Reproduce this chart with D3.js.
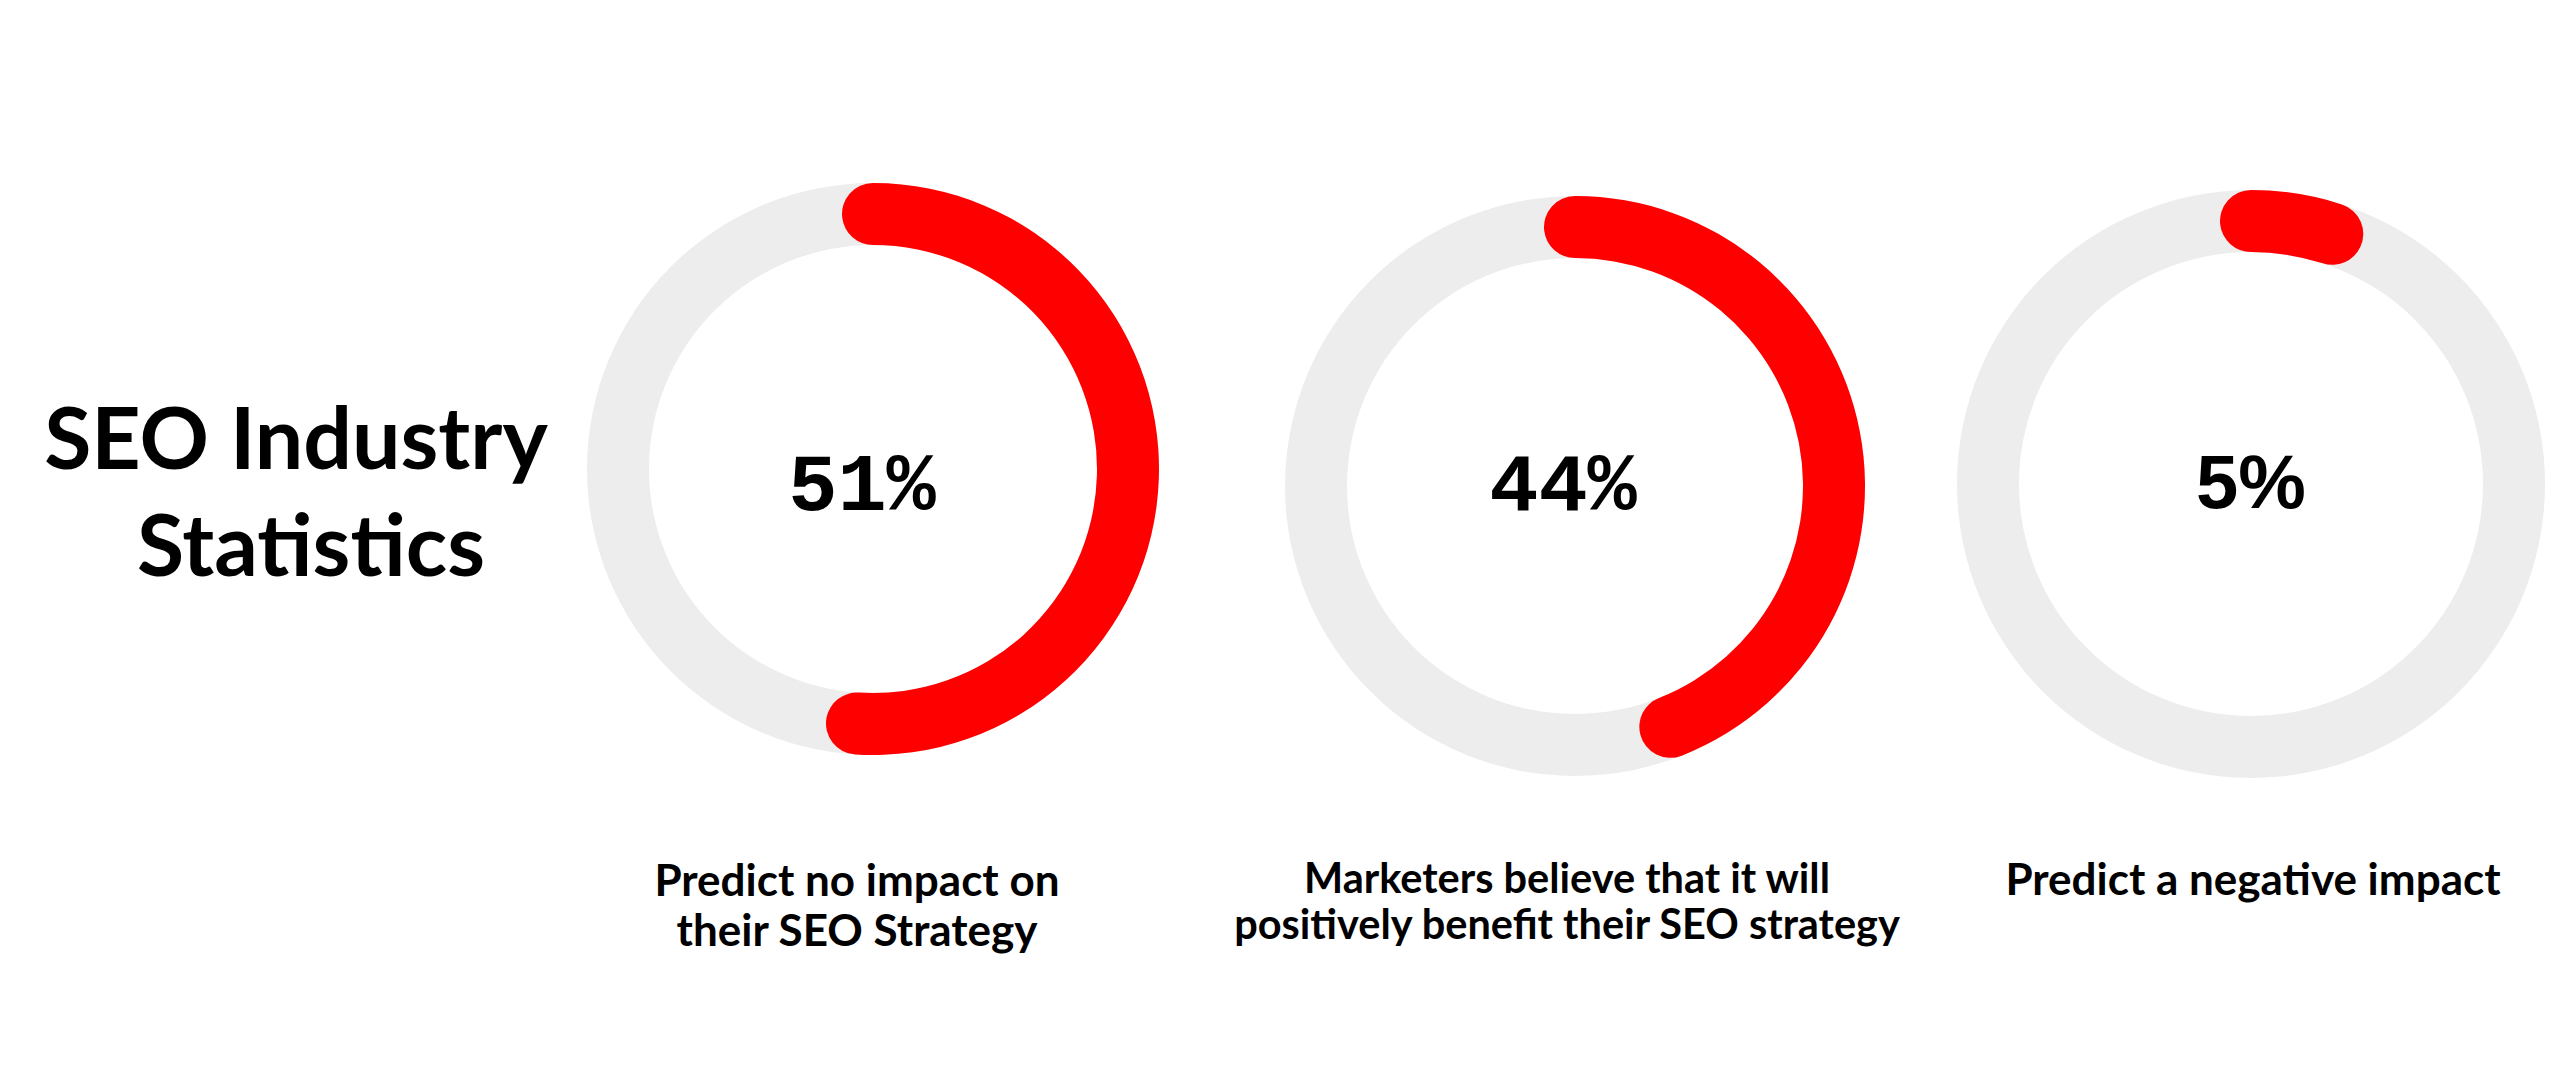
<!DOCTYPE html>
<html>
<head>
<meta charset="utf-8">
<script src="https://cdn.jsdelivr.net/npm/d3@7"></script>
<style>
  html, body { margin: 0; padding: 0; background: #fff; }
  svg { display: block; }
</style>
</head>
<body>
<main></main>
<script>
// data
const values = [51, 44, 5];
const valueLabels = ['51%', '44%', '5%'];
const labelLines = [
  ['Predict no impact on', 'their SEO Strategy'],
  ['Marketers believe that it will', 'positively benefit their SEO strategy'],
  ['Predict a negative impact']
];
const titleLines = ['SEO Industry', 'Statistics'];

// layout
const width = 2560;
const height = 1092;
const centersX = [873, 1575, 2251];
const centersY = [469, 486, 484];
const outerRadii = [286, 290, 294];
const ring = 62;
const labelX = [857, 1567, 2253];
const labelY = [896, 893, 895];
const labelGap = [50, 46, 0];
const labelSize = [44, 41.5, 44];
const titleX = [296, 311];
const titleY = [469, 576];
const gray = '#ededed';
const red = '#ff0000';
const valueFonts = ['"Liberation Mono", "Courier New", monospace', '"Liberation Mono", "Courier New", monospace', '"Liberation Sans", Arial, sans-serif'];
const valueSizes = [82, 82, 76];
const valueShift = [-11, -12, 0];

const angle = d3.scaleLinear()
  .domain([0, 100])
  .range([0, 2 * Math.PI]);

const svg = d3.select('main')
  .append('svg')
  .attr('width', width)
  .attr('height', height)
  .style('background-color', 'white');

// Title
svg.selectAll('.title')
  .data(titleLines)
  .enter()
  .append('text')
  .attr('class', 'title')
  .attr('x', (d, i) => titleX[i])
  .attr('y', (d, i) => titleY[i])
  .attr('text-anchor', 'middle')
  .style('font-family', 'Lato, sans-serif')
  .style('font-weight', 700)
  .style('font-size', '86px')
  .text(d => d);

// Donuts
const donuts = svg.selectAll('.donut')
  .data(values)
  .enter()
  .append('g')
  .attr('class', 'donut')
  .attr('transform', (d, i) => `translate(${centersX[i]}, ${centersY[i]})`);

donuts.append('path')
  .attr('d', (d, i) => d3.arc()
    .innerRadius(outerRadii[i] - ring)
    .outerRadius(outerRadii[i])
    .startAngle(0)
    .endAngle(2 * Math.PI)())
  .style('fill', gray);

// red arc with round ends: widen the angle so the cap centres sit on the value
donuts.append('path')
  .attr('d', (d, i) => {
    const rMid = outerRadii[i] - ring / 2;
    const cap = Math.asin((ring / 2) / rMid);
    return d3.arc()
      .innerRadius(outerRadii[i] - ring)
      .outerRadius(outerRadii[i])
      .cornerRadius(ring / 2)
      .startAngle(angle(0) - cap)
      .endAngle(angle(d) + cap)();
  })
  .style('fill', red);

donuts.append('text')
  .attr('x', (d, i) => valueShift[i])
  .attr('y', (d, i) => 481 - centersY[i])
  .attr('dy', '0.35em')
  .attr('text-anchor', 'middle')
  .style('font-family', (d, i) => valueFonts[i])
  .style('font-weight', 700)
  .style('font-size', (d, i) => valueSizes[i] + 'px')
  .style('fill', '#000')
  .text((d, i) => valueLabels[i]);

// Labels
svg.selectAll('.label')
  .data(labelLines)
  .enter()
  .append('text')
  .attr('class', 'label')
  .attr('text-anchor', 'middle')
  .attr('y', (d, i) => labelY[i])
  .style('font-family', 'Lato, sans-serif')
  .style('font-weight', 700)
  .style('font-size', (d, i) => labelSize[i] + 'px')
  .each(function (lines, i) {
    d3.select(this)
      .selectAll('tspan')
      .data(lines)
      .enter()
      .append('tspan')
      .attr('x', labelX[i])
      .attr('dy', (d, j) => j === 0 ? 0 : labelGap[i])
      .text(d => d);
  });
</script>
</body>
</html>
